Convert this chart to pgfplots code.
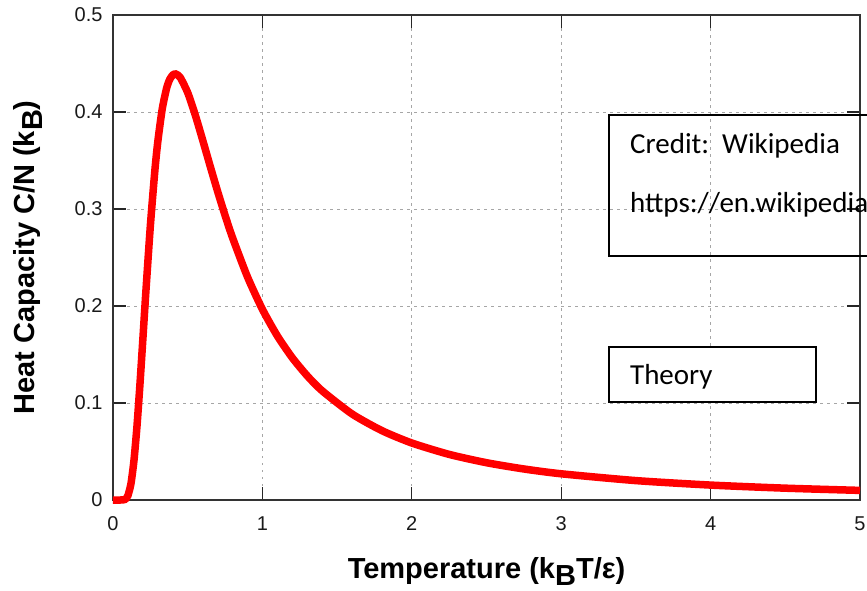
\documentclass[border=0pt]{standalone}
\usepackage{fontspec}
\usepackage{pgfplots}
\pgfplotsset{compat=1.18}
\setmainfont{Liberation Sans}
\newfontfamily\calibri{Carlito}

% Schottky two-level heat capacity
\pgfplotstableread{
T      C
0      0
0.03   0
0.05   0
0.065  0.00005
0.08   0.00058
0.09   0.00185
0.10   0.00454
0.12   0.01668
0.14   0.04027
0.16   0.0751
0.18   0.1184
0.20   0.1662
0.22   0.21474
0.25   0.2826
0.28   0.33927
0.30   0.36954
0.33   0.40361
0.36   0.42523
0.38   0.43370
0.40   0.43815
0.42   0.43918
0.45   0.43563
0.50   0.41997
0.55   0.39719
0.60   0.37120
0.65   0.34441
0.70   0.31826
0.75   0.29349
0.80   0.27047
0.90   0.23003
1.00   0.19661
1.10   0.16918
1.20   0.14664
1.30   0.12804
1.40   0.11257
1.60   0.08871
1.80   0.07150
2.00   0.05875
2.25   0.04702
2.50   0.03844
2.75   0.03199
3.00   0.02702
3.50   0.02000
4.00   0.01538
4.50   0.01219
5.00   0.00990
}\heatdata

\begin{document}
\begin{tikzpicture}
\begin{axis}[
    scale only axis,
    width=747pt,
    height=485pt,
    xmin=0, xmax=5,
    ymin=0, ymax=0.5,
    xtick={0,1,2,3,4,5},
    ytick={0,0.1,0.2,0.3,0.4,0.5},
    yticklabels={0,0.1,0.2,0.3,0.4,0.5},
    tick pos=both,
    tick align=inside,
    major tick length=13pt,
    every tick/.style={black!85, line width=1.3pt},
    axis line style={black!80, line width=1.5pt},
    grid=major,
    major grid style={gray!70, dash pattern=on 2.5pt off 4.5pt, line width=0.7pt},
    /pgf/number format/assume math mode=true,
    tick label style={font=\fontsize{20}{24}\selectfont, text=black!90},
    xticklabel style={anchor=north, yshift=-13pt},
    yticklabel style={anchor=east, xshift=-7pt},
    xlabel={Temperature (k\raisebox{-0.25em}{B}T/ε)},
    ylabel={Heat Capacity C/N (k\raisebox{-0.25em}{B})},
    label style={font=\bfseries\fontsize{29}{34}\selectfont},
    xlabel style={at={([yshift=-78pt]axis description cs:0.5,0)}, anchor=base},
    ylabel style={at={([xshift=-78pt]axis description cs:0,0.5)}, anchor=base},
    clip=false,
]
\addplot[red, line width=7.5pt, smooth, tension=0.4] table[x=T, y=C] {\heatdata};

\draw[black, line width=1.6pt] (axis cs:3.32,0.397) rectangle (axis cs:6.5,0.2515);
\node[anchor=base west, inner sep=0, font=\calibri\fontsize{29}{35}\selectfont]
    at (axis cs:3.46,0.3577) {Credit:\ \ Wikipedia};
\node[anchor=base west, inner sep=0, font=\calibri\fontsize{29}{35}\selectfont]
    at (axis cs:3.46,0.2969) {https://en.wikipedia.org};

\draw[black, line width=1.6pt, fill=white] (axis cs:3.32,0.1577) rectangle (axis cs:4.705,0.101);
\node[anchor=base west, inner sep=0, font=\calibri\fontsize{29}{35}\selectfont]
    at (axis cs:3.46,0.1186) {Theory};
\end{axis}
\pgfresetboundingbox
\useasboundingbox ([shift={(-113pt,-90pt)}]current axis.south west)
    rectangle ([shift={(7pt,15pt)}]current axis.north east);
\end{tikzpicture}
\end{document}
